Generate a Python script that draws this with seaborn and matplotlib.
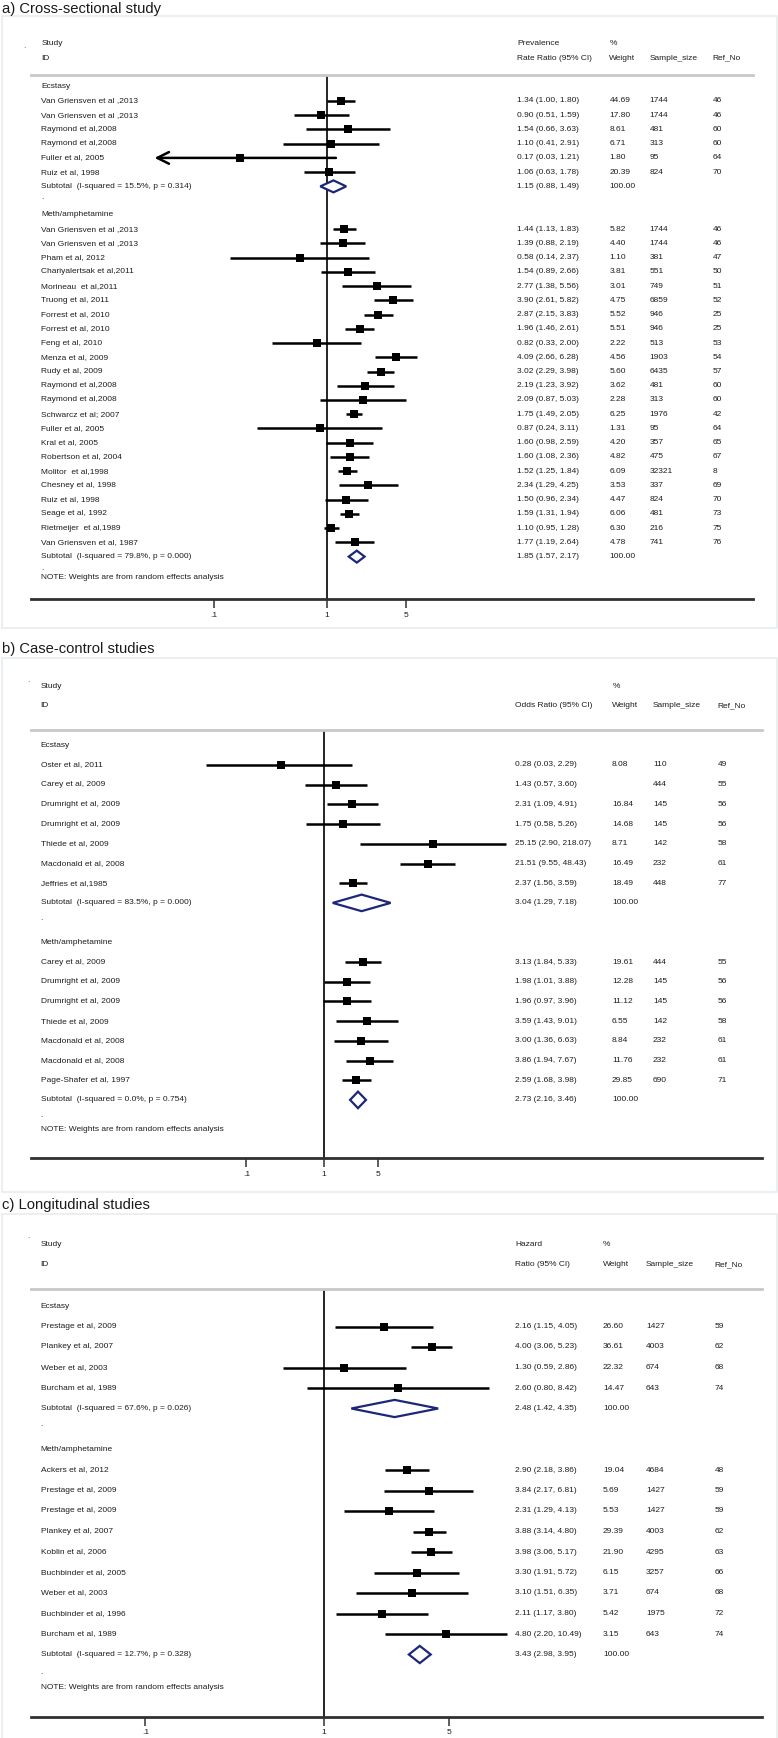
import matplotlib
matplotlib.use("Agg")
import matplotlib.pyplot as plt
import matplotlib.transforms as mtrans
from matplotlib import font_manager
from matplotlib.patches import Rectangle
import numpy as np
import pandas as pd
import seaborn as sns

# ---------------- a) cross-sectional ----------------
a_ecs_study = ["Van Griensven et al ,2013", "Van Griensven et al ,2013", "Raymond et al,2008",
               "Raymond et al,2008", "Fuller et al, 2005", "Ruiz et al, 1998"]
a_ecs_est = [1.34, 0.90, 1.54, 1.10, 0.17, 1.06]
a_ecs_lo = [1.00, 0.51, 0.66, 0.41, 0.03, 0.63]
a_ecs_hi = [1.80, 1.59, 3.63, 2.91, 1.21, 1.78]
a_ecs_wt = [44.69, 17.80, 8.61, 6.71, 1.80, 20.39]
a_ecs_n = [1744, 1744, 481, 313, 95, 824]
a_ecs_ref = [46, 46, 60, 60, 64, 70]

a_met_study = ["Van Griensven et al ,2013", "Van Griensven et al ,2013", "Pham et al, 2012",
               "Chariyalertsak et al,2011", "Morineau  et al,2011", "Truong et al, 2011",
               "Forrest et al, 2010", "Forrest et al, 2010", "Feng et al, 2010", "Menza et al, 2009",
               "Rudy et al, 2009", "Raymond et al,2008", "Raymond et al,2008", "Schwarcz et al; 2007",
               "Fuller et al, 2005", "Kral et al, 2005", "Robertson et al, 2004", "Molitor  et al,1998",
               "Chesney et al, 1998", "Ruiz et al, 1998", "Seage et al, 1992", "Rietmeijer  et al,1989",
               "Van Griensven et al, 1987"]
a_met_est = [1.44, 1.39, 0.58, 1.54, 2.77, 3.90, 2.87, 1.96, 0.82, 4.09, 3.02, 2.19, 2.09, 1.75,
             0.87, 1.60, 1.60, 1.52, 2.34, 1.50, 1.59, 1.10, 1.77]
a_met_lo = [1.13, 0.88, 0.14, 0.89, 1.38, 2.61, 2.15, 1.46, 0.33, 2.66, 2.29, 1.23, 0.87, 1.49,
            0.24, 0.98, 1.08, 1.25, 1.29, 0.96, 1.31, 0.95, 1.19]
a_met_hi = [1.83, 2.19, 2.37, 2.66, 5.56, 5.82, 3.83, 2.61, 2.00, 6.28, 3.98, 3.92, 5.03, 2.05,
            3.11, 2.59, 2.36, 1.84, 4.25, 2.34, 1.94, 1.28, 2.64]
a_met_wt = [5.82, 4.40, 1.10, 3.81, 3.01, 4.75, 5.52, 5.51, 2.22, 4.56, 5.60, 3.62, 2.28, 6.25,
            1.31, 4.20, 4.82, 6.09, 3.53, 4.47, 6.06, 6.30, 4.78]
a_met_n = [1744, 1744, 381, 551, 749, 6859, 946, 946, 513, 1903, 6435, 481, 313, 1976,
           95, 357, 475, 32321, 337, 824, 481, 216, 741]
a_met_ref = [46, 46, 47, 50, 51, 52, 25, 25, 53, 54, 57, 60, 60, 42, 64, 65, 67, 8, 69, 70, 73, 75, 76]

a_sub_est = [1.15, 1.85]
a_sub_lo = [0.88, 1.57]
a_sub_hi = [1.49, 2.17]
a_sub_i2 = [15.5, 79.8]
a_sub_p = [0.314, 0.000]

# ---------------- b) case-control ----------------
b_ecs_study = ["Oster et al, 2011", "Carey et al, 2009", "Drumright et al, 2009", "Drumright et al, 2009",
               "Thiede et al, 2009", "Macdonald et al, 2008", "Jeffries et al,1985"]
b_ecs_est = [0.28, 1.43, 2.31, 1.75, 25.15, 21.51, 2.37]
b_ecs_lo = [0.03, 0.57, 1.09, 0.58, 2.90, 9.55, 1.56]
b_ecs_hi = [2.29, 3.60, 4.91, 5.26, 218.07, 48.43, 3.59]
b_ecs_wt = [8.08, None, 16.84, 14.68, 8.71, 16.49, 18.49]
b_ecs_n = [110, 444, 145, 145, 142, 232, 448]
b_ecs_ref = [49, 55, 56, 56, 58, 61, 77]

b_met_study = ["Carey et al, 2009", "Drumright et al, 2009", "Drumright et al, 2009", "Thiede et al, 2009",
               "Macdonald et al, 2008", "Macdonald et al, 2008", "Page-Shafer et al, 1997"]
b_met_est = [3.13, 1.98, 1.96, 3.59, 3.00, 3.86, 2.59]
b_met_lo = [1.84, 1.01, 0.97, 1.43, 1.36, 1.94, 1.68]
b_met_hi = [5.33, 3.88, 3.96, 9.01, 6.63, 7.67, 3.98]
b_met_wt = [19.61, 12.28, 11.12, 6.55, 8.84, 11.76, 29.85]
b_met_n = [444, 145, 145, 142, 232, 232, 690]
b_met_ref = [55, 56, 56, 58, 61, 61, 71]

b_sub_est = [3.04, 2.73]
b_sub_lo = [1.29, 2.16]
b_sub_hi = [7.18, 3.46]
b_sub_i2 = [83.5, 0.0]
b_sub_p = [0.000, 0.754]

# ---------------- c) longitudinal ----------------
c_ecs_study = ["Prestage et al, 2009", "Plankey et al, 2007", "Weber et al, 2003", "Burcham et al, 1989"]
c_ecs_est = [2.16, 4.00, 1.30, 2.60]
c_ecs_lo = [1.15, 3.06, 0.59, 0.80]
c_ecs_hi = [4.05, 5.23, 2.86, 8.42]
c_ecs_wt = [26.60, 36.61, 22.32, 14.47]
c_ecs_n = [1427, 4003, 674, 643]
c_ecs_ref = [59, 62, 68, 74]

c_met_study = ["Ackers et al, 2012", "Prestage et al, 2009", "Prestage et al, 2009", "Plankey et al, 2007",
               "Koblin et al, 2006", "Buchbinder et al, 2005", "Weber et al, 2003",
               "Buchbinder et al, 1996", "Burcham et al, 1989"]
c_met_est = [2.90, 3.84, 2.31, 3.88, 3.98, 3.30, 3.10, 2.11, 4.80]
c_met_lo = [2.18, 2.17, 1.29, 3.14, 3.06, 1.91, 1.51, 1.17, 2.20]
c_met_hi = [3.86, 6.81, 4.13, 4.80, 5.17, 5.72, 6.35, 3.80, 10.49]
c_met_wt = [19.04, 5.69, 5.53, 29.39, 21.90, 6.15, 3.71, 5.42, 3.15]
c_met_n = [4684, 1427, 1427, 4003, 4295, 3257, 674, 1975, 643]
c_met_ref = [48, 59, 59, 62, 63, 66, 68, 72, 74]

c_sub_est = [2.48, 3.43]
c_sub_lo = [1.42, 2.98]
c_sub_hi = [4.35, 3.95]
c_sub_i2 = [67.6, 12.7]
c_sub_p = [0.026, 0.328]

group_names = ["Ecstasy", "Meth/amphetamine"]
tick_vals = [0.1, 1, 5]
tick_labels = [".1", "1", "5"]

sns.set_theme(style="white")
# the Stata output uses a narrow sans; fall back to a smaller regular sans if none is installed
installed = {f.name for f in font_manager.fontManager.ttflist}
if "Liberation Sans Narrow" in installed:
    plt.rcParams["font.family"] = ["Liberation Sans Narrow", "Liberation Sans", "DejaVu Sans"]
    FS = 7
else:
    plt.rcParams["font.family"] = ["Liberation Sans", "DejaVu Sans"]
    FS = 6.0

W, H = 778, 1738
fig = plt.figure(figsize=(W / 100, H / 100), dpi=100)
fig.patch.set_facecolor("white")

NAVY = "#1c2778"
TITLE_FONT = ["Liberation Sans", "DejaVu Sans"]


def fx(px):
    return px / W


def fy(py):
    return 1 - py / H


def draw_panel(geo, groups, subs, head1, head2):
    top, bot, row0, step = geo["top"], geo["axis"], geo["row0"], geo["step"]
    xl, xr, x1, dec = geo["left"], geo["right"], geo["one"], geo["decade"]
    ax = fig.add_axes([fx(xl), fy(bot), (xr - xl) / W, (bot - top) / H])
    tr = mtrans.blended_transform_factory(fig.transFigure, ax.transData)
    cn, ce, cw, cs, cr = geo["cols"]

    def txt(px, row, s, **kw):
        ax.text(fx(px), row, s, transform=tr, fontsize=FS, va="center", ha="left",
                color="#1e1e1e", clip_on=False, **kw)

    # headers
    txt(cn, -3, "Study")
    txt(cn, -2, "ID")
    if head1:
        txt(ce, -3, head1)
    txt(geo["pct"], -3, "%")
    txt(ce, -2, head2)
    txt(cw, -2, "Weight")
    txt(cs, -2, "Sample_size")
    txt(cr, -2, "Ref_No")

    recs = []
    r = 0
    for gi, (name, g) in enumerate(zip(group_names, groups)):
        study, est, lo, hi, wt, n, ref = g
        txt(cn, r, name)
        for k in range(len(study)):
            rr = r + 1 + k
            recs.append(dict(row=rr, est=est[k], lo=lo[k], hi=hi[k]))
            txt(cn, rr, study[k])
            txt(ce, rr, f"{est[k]:.2f} ({lo[k]:.2f}, {hi[k]:.2f})")
            if wt[k] is not None:
                txt(cw, rr, f"{wt[k]:.2f}")
            txt(cs, rr, str(n[k]))
            txt(cr, rr, str(ref[k]))
        rs = r + len(study) + 1
        s_est, s_lo, s_hi, s_i2, s_p = [v[gi] for v in subs]
        txt(cn, rs, f"Subtotal  (I-squared = {s_i2:.1f}%, p = {s_p:.3f})")
        txt(ce, rs, f"{s_est:.2f} ({s_lo:.2f}, {s_hi:.2f})")
        txt(cw, rs, "100.00")
        hd = 0.42
        ax.fill([s_lo, s_est, s_hi, s_est], [rs, rs - hd, rs, rs + hd],
                facecolor="white", edgecolor=NAVY, lw=1.6, zorder=4)
        if gi == 0:
            txt(cn, rs + 0.8, ".")
            r = rs + 2
        else:
            txt(cn, rs + geo["note"] - 0.7, ".")
            txt(cn, rs + geo["note"], "NOTE: Weights are from random effects analysis")

    df = pd.DataFrame(recs)
    for _, d in df.iterrows():
        if d["lo"] < geo.get("arrow", 0):
            ax.annotate("", xy=(d["lo"], d["row"]), xytext=(d["hi"], d["row"]),
                        arrowprops=dict(arrowstyle="->,head_length=0.7,head_width=0.35",
                                        lw=1.8, color="black", shrinkA=0, shrinkB=0))
        else:
            ax.hlines(d["row"], d["lo"], d["hi"], color="black", lw=1.8, zorder=3)
    sns.scatterplot(data=df, x="est", y="row", marker="s", s=geo["ms"], color="black",
                    edgecolor="black", linewidth=0, ax=ax, legend=False, zorder=5)

    ax.axvline(1, color="black", lw=1.2, zorder=2)
    ax.set_xscale("log")
    ax.set_xlim(10 ** ((xl - x1) / dec), 10 ** ((xr - x1) / dec))
    ax.set_ylim((bot - row0) / step, (top - row0) / step)
    ax.set_xticks(tick_vals)
    ax.set_xticklabels(tick_labels)
    ax.xaxis.set_minor_locator(matplotlib.ticker.NullLocator())
    ax.set_yticks([])
    ax.set_xlabel("")
    ax.set_ylabel("")
    ax.tick_params(axis="x", length=6.5, width=1.1, color="#303030", direction="out",
                   pad=2.5, labelsize=FS, labelcolor="#1e1e1e", bottom=True)
    for sp in ["left", "right"]:
        ax.spines[sp].set_visible(False)
    ax.spines["top"].set_color("#c8c8c8")
    ax.spines["top"].set_linewidth(2)
    ax.spines["bottom"].set_color("#303030")
    ax.spines["bottom"].set_linewidth(2)
    ax.patch.set_alpha(0)
    return ax


geo_a = dict(top=75.3, axis=599.3, row0=86.7, step=14.24, left=31.3, right=753.3, one=326.6,
             decade=113.0, cols=(41.2, 517, 609.4, 649.6, 712.7), pct=609.4, note=1.5, ms=34,
             arrow=0.05)
geo_b = dict(top=730, axis=1158.3, row0=745.3, step=19.7, left=31.3, right=761.8, one=324.1,
             decade=77.7, cols=(40.7, 515, 612, 653, 717.6), pct=613, note=1.5, ms=26)
geo_c = dict(top=1289.3, axis=1716.7, row0=1306, step=20.5, left=31.3, right=761.8, one=324.1,
             decade=178.7, cols=(40.7, 515, 603, 646, 714.6), pct=603, note=1.6, ms=30)

draw_panel(geo_a,
           [(a_ecs_study, a_ecs_est, a_ecs_lo, a_ecs_hi, a_ecs_wt, a_ecs_n, a_ecs_ref),
            (a_met_study, a_met_est, a_met_lo, a_met_hi, a_met_wt, a_met_n, a_met_ref)],
           (a_sub_est, a_sub_lo, a_sub_hi, a_sub_i2, a_sub_p), "Prevalence", "Rate Ratio (95% CI)")
draw_panel(geo_b,
           [(b_ecs_study, b_ecs_est, b_ecs_lo, b_ecs_hi, b_ecs_wt, b_ecs_n, b_ecs_ref),
            (b_met_study, b_met_est, b_met_lo, b_met_hi, b_met_wt, b_met_n, b_met_ref)],
           (b_sub_est, b_sub_lo, b_sub_hi, b_sub_i2, b_sub_p), "", "Odds Ratio (95% CI)")
draw_panel(geo_c,
           [(c_ecs_study, c_ecs_est, c_ecs_lo, c_ecs_hi, c_ecs_wt, c_ecs_n, c_ecs_ref),
            (c_met_study, c_met_est, c_met_lo, c_met_hi, c_met_wt, c_met_n, c_met_ref)],
           (c_sub_est, c_sub_lo, c_sub_hi, c_sub_i2, c_sub_p), "Hazard", "Ratio (95% CI)")

# panel titles and faint frames
for title, base, ftop, fbot in [("a) Cross-sectional study", 12.5, 16, 628),
                                ("b) Case-control studies", 652.7, 657.7, 1192),
                                ("c) Longitudinal studies", 1209.5, 1214.3, 1745)]:
    fig.text(fx(2.5), fy(base), title, fontsize=10.6, family=TITLE_FONT, va="baseline",
             ha="left", color="#1a1a1a")
    fig.patches.append(Rectangle((fx(2), fy(fbot)), fx(775), (fbot - ftop) / H,
                                 transform=fig.transFigure, fill=False,
                                 edgecolor="#e8ecef", lw=1.2))

for px, py in [(24, 47), (28, 681), (28, 1236.7)]:
    fig.text(fx(px), fy(py), ".", fontsize=6, ha="center", va="center", color="#444444")

fig.savefig("out.png", dpi=100, facecolor="white")
